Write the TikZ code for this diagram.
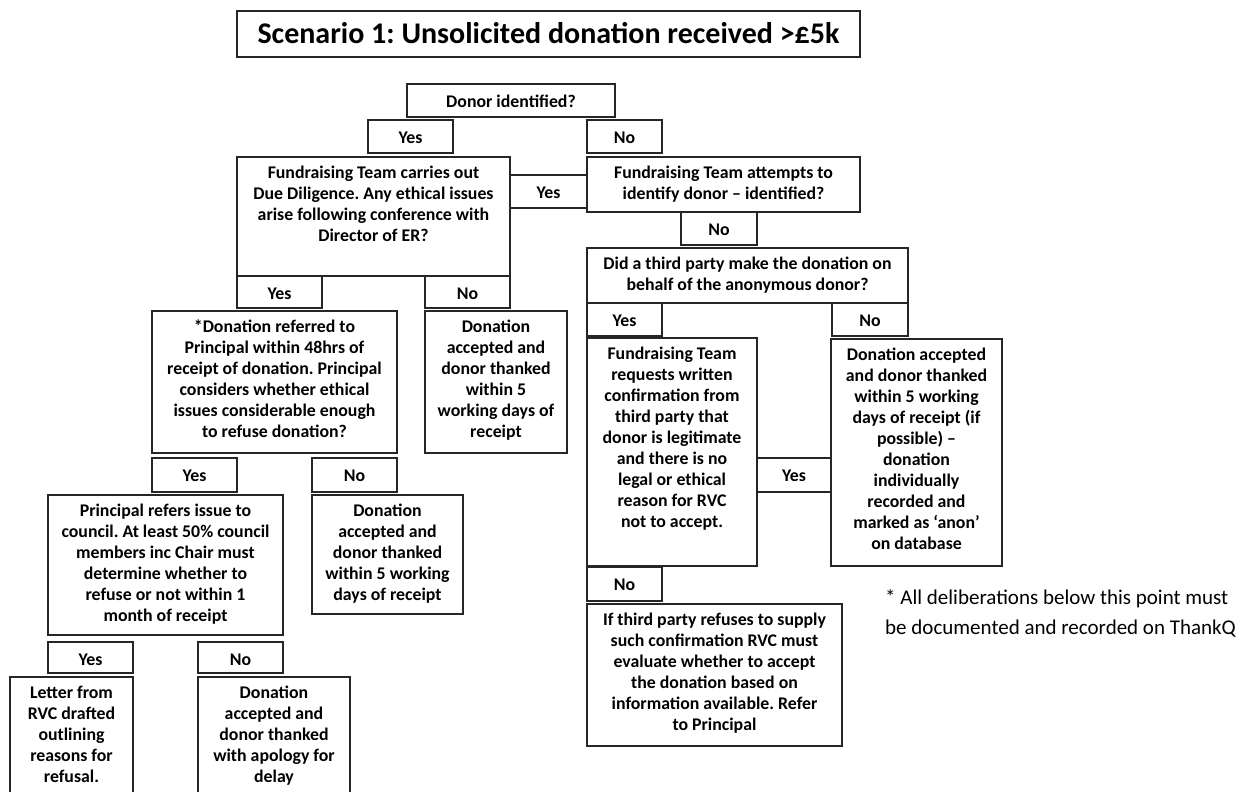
\documentclass[tikz,border=0pt]{standalone}
\usepackage{fontspec}
\setmainfont{Carlito}
\usepackage{tikz}
\frenchspacing
\tikzset{
  boxline/.style={draw=black!85, line width=1.1pt},
  boxtext/.style={font=\bfseries\fontsize{17.8}{21}\selectfont, align=center, anchor=north,
    inner sep=0pt, execute at begin node=\strut},
}
\newcommand\flowbox[6]{%
  \draw[boxline] (#2,#3) rectangle (#4,#5);
  \node[boxtext] (#1) at ({(#2+#4)/2},#3+9) {#6};
}

\begin{document}
\begin{tikzpicture}[x=1pt,y=-1pt]
  \fill[white] (0,0) rectangle (1256,792);
  \clip (0,0) rectangle (1256,792);

  \draw[boxline] (237,11) rectangle (860,57);
  \node[font=\bfseries\fontsize{30}{36}\selectfont, anchor=base] (title) at (548.5,43.5)
    {Scenario 1: Unsolicited donation received >£5k};

  \flowbox{donor}{407}{84}{615}{117}{Donor identified?}
  \flowbox{yesA}{368}{120}{453}{153}{Yes}
  \flowbox{noA}{587}{120}{662}{153}{No}

  \flowbox{diligence}{237}{157}{510}{276}{Fundraising Team carries out\\Due Diligence. Any ethical issues\\arise following conference with\\Director of ER?}
  \flowbox{yesB}{510}{175}{587}{208}{Yes}
  \flowbox{attempt}{587}{157}{860}{212}{Fundraising Team attempts to\\identify donor – identified?}
  \flowbox{noB}{681}{212}{757}{245}{No}
  \flowbox{thirdparty}{587}{248}{908}{303}{Did a third party make the donation on\\behalf of the anonymous donor?}

  \flowbox{yesC}{237}{276}{322}{308}{Yes}
  \flowbox{noC}{425}{276}{510}{308}{No}
  \flowbox{yesD}{587}{303}{662}{336}{Yes}
  \flowbox{noD}{832}{303}{908}{336}{No}

  \flowbox{referred}{152}{311}{397}{453}{*Donation referred to\\Principal within 48hrs of\\receipt of donation. Principal\\considers whether ethical\\issues considerable enough\\to refuse donation?}
  \flowbox{acceptA}{425}{311}{567}{453}{Donation\\accepted and\\donor thanked\\within 5\\working days of\\receipt}
  \flowbox{request}{587}{338}{757}{566}{Fundraising Team\\requests written\\confirmation from\\third party that\\donor is legitimate\\and there is no\\legal or ethical\\reason for RVC\\not to accept.}
  \flowbox{anon}{831}{339}{1002}{566}{Donation accepted\\and donor thanked\\within 5 working\\days of receipt (if\\possible) –\\donation\\individually\\recorded and\\marked as ‘anon’\\on database}
  \flowbox{yesE}{757}{458}{831}{492}{Yes}

  \flowbox{yesF}{152}{458}{237}{492}{Yes}
  \flowbox{noF}{312}{458}{397}{492}{No}
  \flowbox{council}{48}{495}{283}{635}{Principal refers issue to\\council. At least 50\% council\\members inc Chair must\\determine whether to\\refuse or not within 1\\month of receipt}
  \flowbox{acceptB}{312}{495}{463}{614}{Donation\\accepted and\\donor thanked\\within 5 working\\days of receipt}

  \flowbox{noE}{587}{567}{662}{601}{No}
  \flowbox{refuse}{587}{604}{842}{746}{If third party refuses to supply\\such confirmation RVC must\\evaluate whether to accept\\the donation based on\\information available. Refer\\to Principal}

  \flowbox{yesG}{48}{642}{133}{673}{Yes}
  \flowbox{noG}{198}{642}{283}{673}{No}
  \flowbox{letter}{10}{677}{133}{810}{Letter from\\RVC drafted\\outlining\\reasons for\\refusal.}
  \flowbox{apology}{198}{677}{350}{810}{Donation\\accepted and\\donor thanked\\with apology for\\delay}

  \node[font=\fontsize{21}{30}\selectfont, align=left, anchor=north west, inner sep=0pt,
    execute at begin node=\strut] (note) at (885,589)
    {* All deliberations below this point must\\be documented and recorded on ThankQ};
\end{tikzpicture}
\end{document}
